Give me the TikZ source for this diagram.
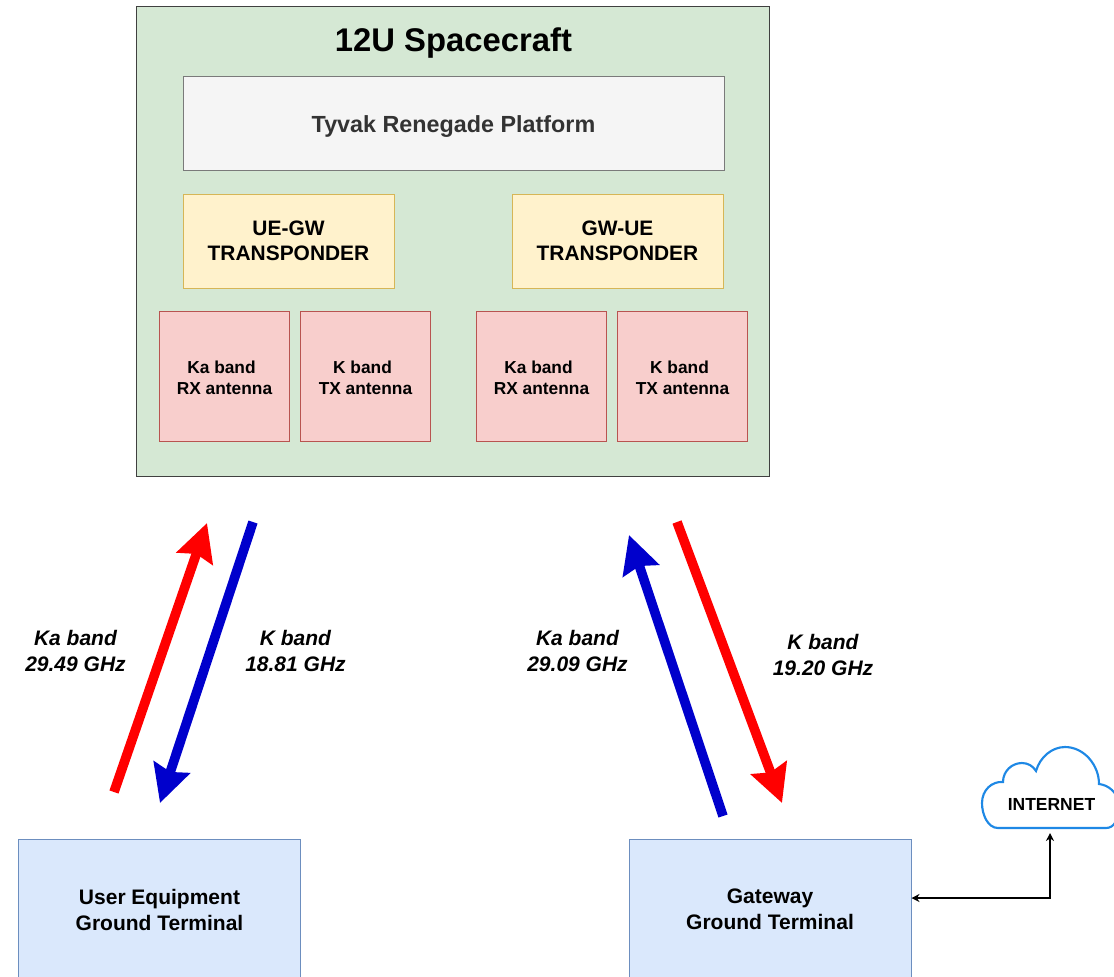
\documentclass[tikz,border=0pt]{standalone}
\usepackage{fontspec}
\setmainfont{Liberation Sans}
\usetikzlibrary{arrows.meta,positioning}
\definecolor{scgreen}{HTML}{D5E8D4}
\definecolor{platfill}{HTML}{F5F5F5}
\definecolor{platline}{HTML}{7A7A7A}
\definecolor{yelfill}{HTML}{FFF2CC}
\definecolor{yelline}{HTML}{D6B656}
\definecolor{redfill}{HTML}{F8CECC}
\definecolor{redline}{HTML}{B85450}
\definecolor{bluefill}{HTML}{DAE8FC}
\definecolor{blueline}{HTML}{6C8EBF}
\definecolor{cloudline}{HTML}{1E88E5}
\definecolor{linkblue}{HTML}{0000CC}
\definecolor{linkred}{HTML}{FF0000}
\newcommand{\antlabel}[2]{\rule{0pt}{12.5pt}#1\hspace*{4.5pt}\\#2}
\tikzset{
  px/.style={x=0.75pt,y=-0.75pt},
  box/.style={draw,line width=0.75pt,inner sep=0pt,align=center,font=\bfseries},
  transp/.style={box,draw=yelline,fill=yelfill,minimum width=158.25pt,minimum height=70.5pt,font=\bfseries\fontsize{15.7}{19}\selectfont},
  antenna/.style={box,draw=redline,fill=redfill,minimum width=97.5pt,minimum height=97.5pt,font=\bfseries\fontsize{13}{16}\selectfont},
  ground/.style={box,draw=blueline,fill=bluefill,minimum width=211.5pt,minimum height=120pt},
  bandlabel/.style={align=center,font=\bfseries\itshape\fontsize{15.75}{19}\selectfont,inner sep=0pt},
  link/.style={line width=7.2pt,-{Stealth[length=28pt,width=28pt,inset=3.5pt]}},
  thinarrow/.style={line width=1pt,{Stealth[length=6pt,width=6pt]}-{Stealth[length=6pt,width=6pt]}},
  groundtext/.style={align=center,font=\bfseries\fontsize{15.75}{19.5}\selectfont,inner sep=0pt}
}
\begin{document}
\begin{tikzpicture}[px]
\useasboundingbox (0,0) rectangle (1114,976);
\clip (0,0) rectangle (1114,976);
\node[box,draw=black!75,fill=scgreen,minimum width=474.75pt,minimum height=352.5pt] (craft) at (453,241) {};
\node[font=\bfseries\fontsize{24.6}{28}\selectfont,inner sep=0pt] (title) at (453.5,43) {12U Spacecraft};
\node[box,draw=platline,fill=platfill,text=black!80,minimum width=405.75pt,minimum height=70.5pt,font=\bfseries\fontsize{17.5}{20}\selectfont] (plat) at (453.5,123.5) {\rule{0pt}{16.6pt}Tyvak Renegade Platform};
\node[transp] (uegw) at (288.5,241) {UE-GW\\TRANSPONDER};
\node[transp] (gwue) at (617.5,241) {GW-UE\\TRANSPONDER};
\node[antenna] (a1) at (224.5,376) {\antlabel{Ka band}{RX antenna}};
\node[antenna] (a2) at (365.5,376) {\antlabel{K band}{TX antenna}};
\node[antenna] (a3) at (541.5,376) {\antlabel{Ka band}{RX antenna}};
\node[antenna] (a4) at (682.5,376) {\antlabel{K band}{TX antenna}};
\node[ground] (ue) at (159.5,919) {};
\node[ground] (gw) at (770,919) {};
\node[groundtext] (uetext) at (159.5,909.5) {User Equipment\\Ground Terminal};
\node[groundtext] (gwtext) at (770,909.5) {Gateway\\Ground Terminal};
\coordinate (r1s) at (114,792);
\coordinate (r1e) at (207,523);
\coordinate (b1s) at (253,522);
\coordinate (b1e) at (160,803);
\coordinate (b2s) at (723,816);
\coordinate (b2e) at (629,535);
\coordinate (r2s) at (677,522);
\coordinate (r2e) at (782,803);
\draw[link,draw=linkred,color=linkred] (r1s) -- (r1e);
\draw[link,draw=linkblue,color=linkblue] (b1s) -- (b1e);
\draw[link,draw=linkblue,color=linkblue] (b2s) -- (b2e);
\draw[link,draw=linkred,color=linkred] (r2s) -- (r2e);
\node[bandlabel] (l1) at (75.5,651) {Ka band\\29.49 GHz};
\node[bandlabel] (l2) at (295.5,651) {K band\\18.81 GHz};
\node[bandlabel] (l3) at (577.5,651) {Ka band\\29.09 GHz};
\node[bandlabel] (l4) at (823,655) {K band\\19.20 GHz};
\draw[cloudline,line width=1.6pt,fill=white]
  (998,828) .. controls (988,828) and (982,815) .. (982,803)
  .. controls (982,790) and (992,781) .. (1003,782)
  .. controls (1003,771) and (1012,763) .. (1022,763)
  .. controls (1028,763) and (1033,766) .. (1036,771)
  .. controls (1040,757) and (1052,747) .. (1065,747)
  .. controls (1084,747) and (1099,765) .. (1099,784)
  .. controls (1108,785) and (1118,792) .. (1119,805)
  .. controls (1119,820) and (1114,828) .. (1106,828)
  -- cycle;
\node[font=\bfseries\fontsize{13.1}{15}\selectfont,inner sep=0pt] (inet) at (1051.5,804.5) {INTERNET};
\coordinate (cloudbottom) at (1050,833);
\draw[thinarrow] (gw.east |- 0,898) -- (1050,898) -- (cloudbottom);
\end{tikzpicture}
\end{document}
